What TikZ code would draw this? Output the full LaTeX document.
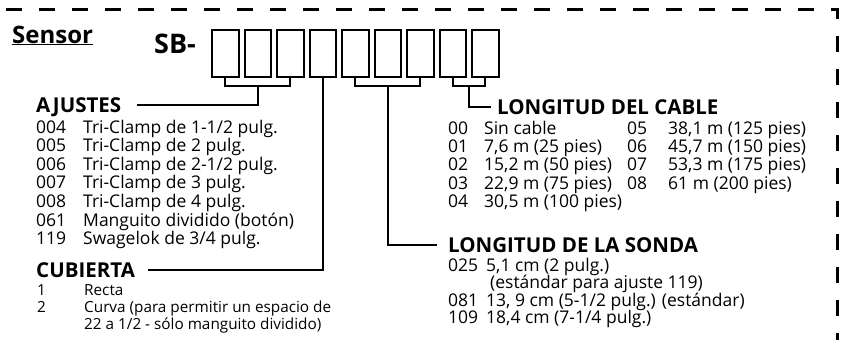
\documentclass[tikz,border=0pt]{standalone}
\usepackage{fontspec}
\setmainfont{Open Sans}
\usetikzlibrary{calc}
\newcommand\codebox[2]{\makebox[#1pt][l]{#2}}
\begin{document}
\begin{tikzpicture}[x=1pt,y=-1pt,
  digit/.style={draw,line width=2pt,minimum width=26.5pt,minimum height=47pt,inner sep=0pt,anchor=north west},
  conn/.style={line width=2pt},
  border/.style={line width=3pt,dash pattern=on 16pt off 17pt,dash phase=27pt},
  head/.style={font=\bfseries\fontsize{20.5}{22}\selectfont,anchor=base west,inner sep=0pt},
  lst/.style={font=\fontsize{17.5}{19}\selectfont,anchor=base west,inner sep=0pt},
  small/.style={font=\fontsize{15.3}{17}\selectfont,anchor=base west,inner sep=0pt}]
\useasboundingbox (0,0) rectangle (843,340);
\draw[border] (0,9) -- (837,9) -- (837,340);

\node[anchor=base west,inner sep=0pt,font=\bfseries\fontsize{24}{26}\selectfont] (sensor) at (12,43) {\underline{Sensor}};
\node[anchor=base west,inner sep=0pt,font=\bfseries\fontsize{27}{29}\selectfont] (sb) at (154,53) {SB-};

\foreach \i in {1,...,9} {
  \node[digit] (b\i) at ({211+32.5*(\i-1)},29) {};
}

% AJUSTES
\coordinate (ajm) at ($(b2.south)+(0,8)$);
\draw[conn] (b1.south) -- ++(0,8) -| (b3.south);
\coordinate (ajend) at (137,105);
\draw[conn] (ajm) |- (ajend);
% CUBIERTA
\coordinate (cuend) at (148,270);
\draw[conn] (b4.south) |- (cuend);
% SONDA
\coordinate (som) at ($(b6.south)+(0,8)$);
\draw[conn] (b5.south) -- ++(0,8) -| (b7.south);
\coordinate (soend) at (437,245);
\draw[conn] (som) |- (soend);
% CABLE
\coordinate (cam) at ($(b8.south)!0.5!(b9.south)+(0,8)$);
\draw[conn] (b8.south) -- ++(0,8) -| (b9.south);
\coordinate (caend) at (491,107);
\draw[conn] (cam) |- (caend);

% AJUSTES text
\node[head] (ajh) at (36,112) {AJUSTES};
\node[lst] (aj1) at (36,133) {\codebox{47}{004}Tri-Clamp de 1-1/2 pulg.};
\node[lst] (aj2) at (36,151.6) {\codebox{47}{005}Tri-Clamp de 2 pulg.};
\node[lst] (aj3) at (36,170.2) {\codebox{47}{006}Tri-Clamp de 2-1/2 pulg.};
\node[lst] (aj4) at (36,188.8) {\codebox{47}{007}Tri-Clamp de 3 pulg.};
\node[lst] (aj5) at (36,207.4) {\codebox{47}{008}Tri-Clamp de 4 pulg.};
\node[lst] (aj6) at (36,226) {\codebox{47}{061}Manguito dividido (botón)};
\node[lst] (aj7) at (36,244.6) {\codebox{47}{119}Swagelok de 3/4 pulg.};

% CUBIERTA text
\node[head] (cuh) at (36,277) {CUBIERTA};
\node[small] (cu1) at (37,295) {\codebox{47}{1}Recta};
\node[small] (cu2) at (37,312) {\codebox{47}{2}Curva (para permitir un espacio de};
\node[small] (cu3) at (84,329) {22 a 1/2 - sólo manguito dividido)};

% CABLE text
\node[head] (cah) at (497,114) {LONGITUD DEL CABLE};
\node[lst] (ca1) at (448,134) {\codebox{36}{00}Sin cable};
\node[lst] (ca2) at (448,152.4) {\codebox{36}{01}7,6 m (25 pies)};
\node[lst] (ca3) at (448,170.8) {\codebox{36}{02}15,2 m (50 pies)};
\node[lst] (ca4) at (448,189.2) {\codebox{36}{03}22,9 m (75 pies)};
\node[lst] (ca5) at (448,207.6) {\codebox{36}{04}30,5 m (100 pies)};
\node[lst] (ca6) at (627,134) {\codebox{41}{05}38,1 m (125 pies)};
\node[lst] (ca7) at (627,152.4) {\codebox{41}{06}45,7 m (150 pies)};
\node[lst] (ca8) at (627,170.8) {\codebox{41}{07}53,3 m (175 pies)};
\node[lst] (ca9) at (627,189.2) {\codebox{41}{08}61 m (200 pies)};

% SONDA text
\node[head] (soh) at (448,252) {LONGITUD DE LA SONDA};
\node[lst] (so1) at (448,271) {\codebox{38}{025}5,1 cm (2 pulg.)};
\node[lst] (so2) at (490,288.5) {(estándar para ajuste 119)};
\node[lst] (so3) at (448,306) {\codebox{38}{081}13, 9 cm (5-1/2 pulg.) (estándar)};
\node[lst] (so4) at (448,323.5) {\codebox{38}{109}18,4 cm (7-1/4 pulg.)};
\end{tikzpicture}
\end{document}
